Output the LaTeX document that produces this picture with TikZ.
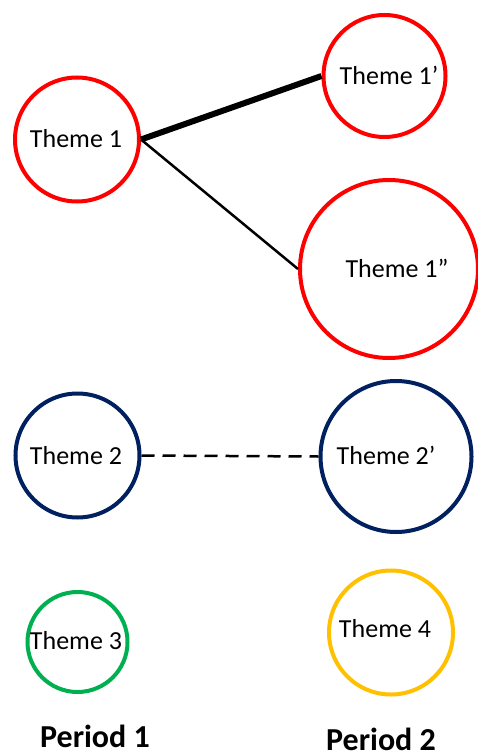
\documentclass[tikz,border=0pt]{standalone}
\usepackage{fontspec}
\setmainfont{Carlito}
\definecolor{themered}{HTML}{FF0000}
\definecolor{themenavy}{HTML}{002060}
\definecolor{themegreen}{HTML}{00B050}
\definecolor{themegold}{HTML}{FFC000}
\begin{document}
\begin{tikzpicture}[x=1pt,y=-1pt,
  ring/.style={circle,draw=#1,line width=4pt,inner sep=0pt},
  lbl/.style={anchor=base,inner sep=0pt,font=\fontsize{26}{28}\selectfont},
  period/.style={anchor=base,inner sep=0pt,font=\fontsize{32}{34}\selectfont\bfseries},
  strong/.style={line width=6pt},
  weak/.style={line width=2.5pt},
  fade/.style={line width=2.5pt,dash pattern=on 13pt off 8pt}]
\useasboundingbox (0,0) rectangle (477,751);
% theme circles, period 1 on the left, period 2 on the right
\node[ring=themered,minimum size=124pt] (t1) at (77,139.5) {};
\node[ring=themered,minimum size=122pt] (t1a) at (384.5,76) {};
\node[ring=themered,minimum size=178pt] (t1b) at (389,269) {};
\node[ring=themenavy,minimum size=124pt] (t2) at (77.5,455.5) {};
\node[ring=themenavy,minimum size=151pt] (t2a) at (396,456.5) {};
\node[ring=themegreen,minimum size=100pt] (t3) at (77.5,642) {};
\node[ring=themegold,minimum size=124pt] (t4) at (391,632.5) {};
% theme labels
\node[lbl] (l1) at (76,148) {Theme 1};
\node[lbl] (l1a) at (389,85) {Theme 1’};
\node[lbl] (l1b) at (397,277) {Theme 1”};
\node[lbl] (l2) at (76,464) {Theme 2};
\node[lbl] (l2a) at (386,464) {Theme 2’};
\node[lbl] (l3) at (76,649) {Theme 3};
\node[lbl] (l4) at (385,637) {Theme 4};
% period captions
\node[period] (p1) at (95,747) {Period 1};
\node[period] (p2) at (381,750) {Period 2};
% links between periods
\draw[strong] (t1.east) -- (t1a.west);
\draw[weak] (t1.east) -- (t1b.west);
\draw[fade] (t2.east) -- (t2a.west);
\end{tikzpicture}
\end{document}
